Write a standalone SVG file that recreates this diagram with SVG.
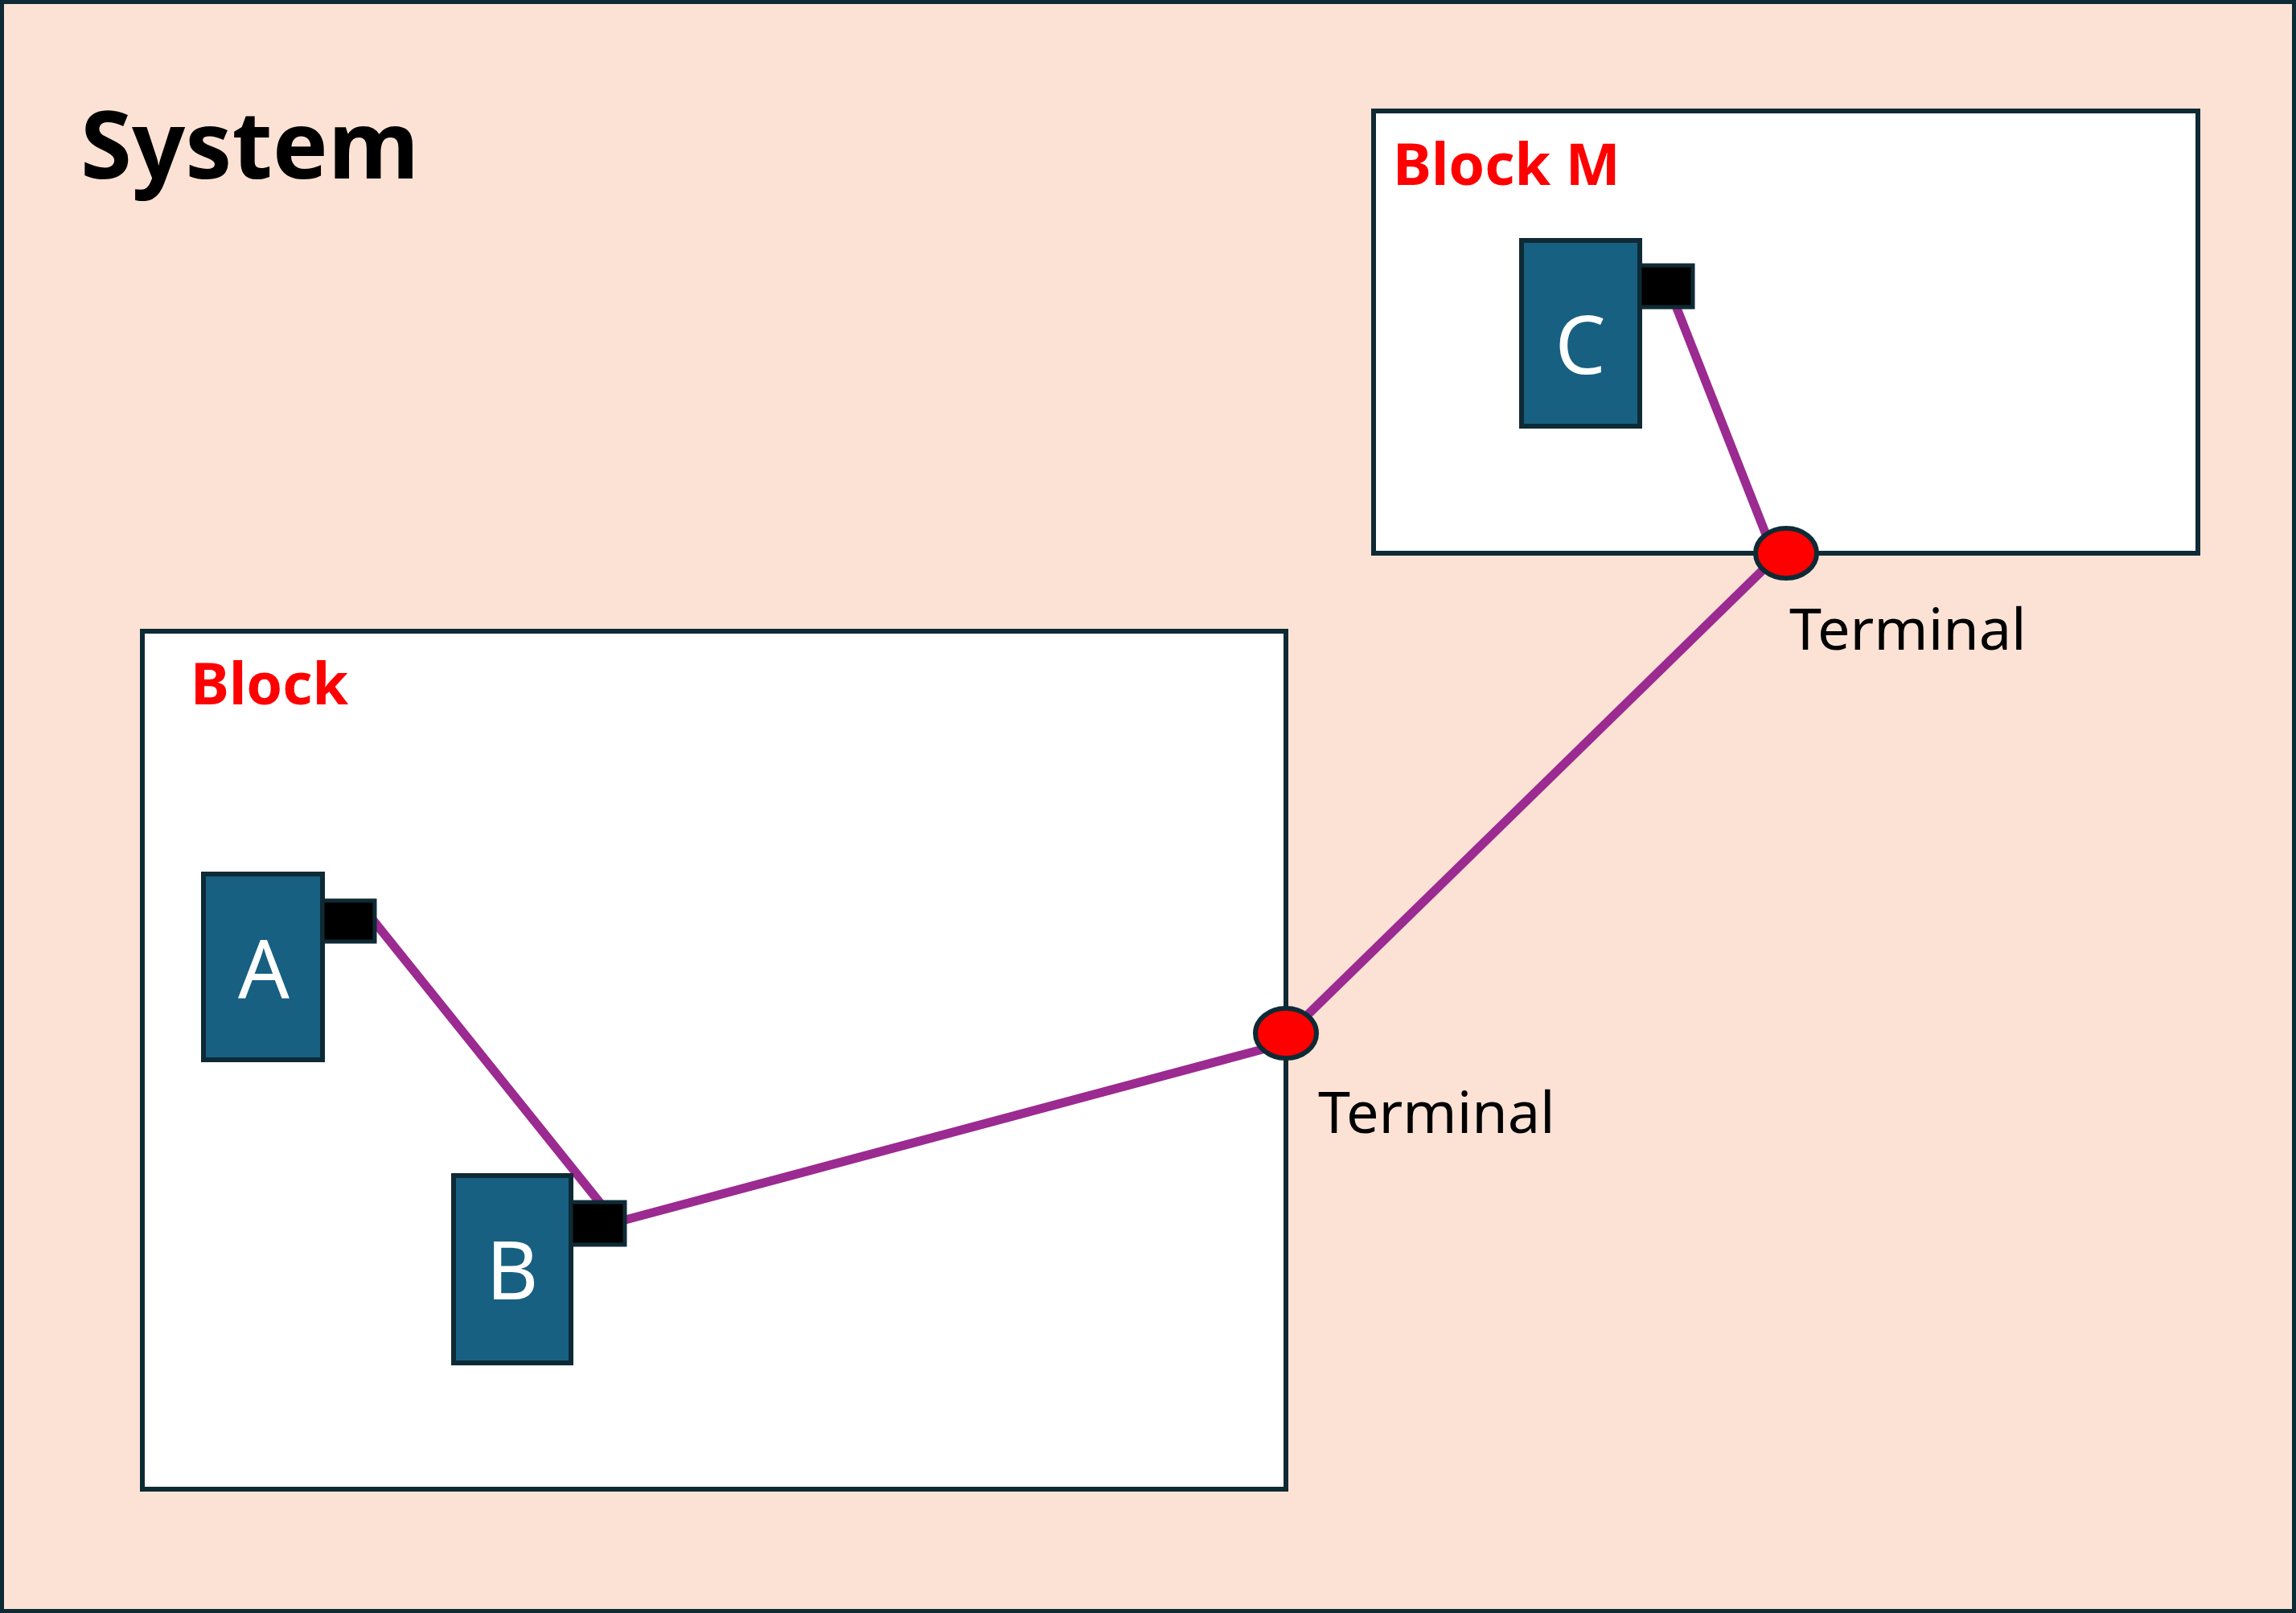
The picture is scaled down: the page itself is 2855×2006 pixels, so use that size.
<svg xmlns="http://www.w3.org/2000/svg" width="2855" height="2006" viewBox="0 0 2855 2006">
<style>
.frame{fill:#fff;stroke:#0e2a35;stroke-width:6}
.comp{fill:#176082;stroke:#0e2a35;stroke-width:6}
.port{fill:#000;stroke:#0e2a35;stroke-width:5}
.term{fill:#f00;stroke:#0e2a35;stroke-width:6}
.wire{stroke:#9b2a91;stroke-width:11;fill:none}
.title{font-family:"Noto Sans","Open Sans",sans-serif;font-weight:bold;fill:#000}
.red{font-family:"Noto Sans","Open Sans",sans-serif;font-weight:bold;fill:#f00;font-size:72px}
.lbl{font-family:"Noto Sans","Open Sans",sans-serif;fill:#fff;font-size:100px;text-anchor:middle;dominant-baseline:central}
.tl{font-family:"Noto Sans","Open Sans",sans-serif;fill:#000;font-size:72px}
</style>
<rect x="2.5" y="2.5" width="2850" height="2001" fill="#fbe2d5" stroke="#0e2a35" stroke-width="5"/>
<text class="title" x="100" y="222" font-size="116">System</text>
<g id="blockM"><rect class="frame" x="1708" y="138" width="1025" height="550"/><text class="red" x="1732" y="230">Block M</text></g>
<g id="block"><rect class="frame" x="177" y="785" width="1422" height="1067"/><text class="red" x="237" y="876">Block</text></g>
<g id="connectors">
<line class="wire" x1="2081" y1="373" x2="2198" y2="670"/>
<line class="wire" x1="2198" y1="703" x2="1626" y2="1262"/>
<line class="wire" x1="1570" y1="1305" x2="774" y2="1518"/>
<line class="wire" x1="462" y1="1142" x2="747" y2="1497"/>
</g>
<g id="C"><rect class="comp" x="1892" y="299" width="147" height="231"/><rect class="port" x="2039" y="330" width="66" height="52"/><text class="lbl" x="1965" y="426">C</text></g>
<g id="A"><rect class="comp" x="253" y="1087" width="148" height="231"/><rect class="port" x="401" y="1120" width="65" height="51"/><text class="lbl" x="328" y="1202">A</text></g>
<g id="B"><rect class="comp" x="564" y="1462" width="146" height="233"/><rect class="port" x="710" y="1495" width="67" height="53"/><text class="lbl" x="637" y="1577">B</text></g>
<g id="terminalM"><ellipse class="term" cx="2221" cy="688" rx="38" ry="31"/><text class="tl" x="2225" y="808">Terminal</text></g>
<g id="terminal"><ellipse class="term" cx="1599" cy="1285" rx="38" ry="31"/><text class="tl" x="1639" y="1409">Terminal</text></g>
</svg>
